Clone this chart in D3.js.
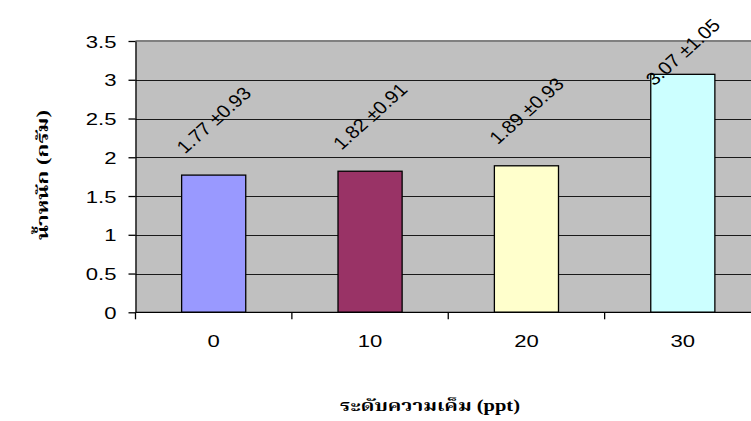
<!DOCTYPE html>
<html>
<head>
<meta charset="utf-8">
<script src="https://cdn.jsdelivr.net/npm/d3@7/dist/d3.min.js"></script>
<style>
  html, body { margin: 0; padding: 0; background: #fff; }
  svg { display: block; }
</style>
</head>
<body>
<svg id="chart" width="751" height="421"></svg>
<script>
// Salinity levels (ppt) and mean weight (g) with standard deviation
const categories = ["0", "10", "20", "30"];
const means = [1.77, 1.82, 1.89, 3.07];
const sds = [0.93, 0.91, 0.93, 1.05];
const barColors = ["#9999FF", "#993366", "#FFFFCC", "#CCFFFF"];
const yTicks = [0, 0.5, 1, 1.5, 2, 2.5, 3, 3.5];
const yTitle = "น้ำหนัก (กรัม)";
const xTitle = "ระดับความเค็ม (ppt)";

const W = 751, H = 421;
const plot = { left: 135.5, right: 761, top: 41, bottom: 312.3 };
const sx = 1.3;              // horizontal stretch of the axis label glyphs
const sxLabel = 1.12;        // horizontal stretch of the rotated value labels
const fontSans = "'Liberation Sans', Arial, sans-serif";
const fontThai = "'Liberation Serif', 'Noto Serif Thai', 'Noto Sans Thai', Garuda, Loma, Norasi, serif";

const svg = d3.select("#chart");
svg.append("rect").attr("width", W).attr("height", H).attr("fill", "#fff");

const slot = d3.scaleBand().domain(categories).range([plot.left, plot.right]).padding(0);
const barFrac = 0.41;
const y = d3.scaleLinear().domain([0, 3.5]).range([plot.bottom, plot.top]);

// plot area
svg.append("rect")
  .attr("x", plot.left).attr("y", plot.top)
  .attr("width", plot.right - plot.left).attr("height", plot.bottom - plot.top)
  .attr("fill", "#C0C0C0");

// horizontal gridlines
svg.append("g").selectAll("line")
  .data(yTicks.filter(t => t > 0 && t < 3.5))
  .join("line")
  .attr("x1", plot.left).attr("x2", plot.right)
  .attr("y1", d => Math.round(y(d)) + 0.5).attr("y2", d => Math.round(y(d)) + 0.5)
  .attr("stroke", "#1a1a1a").attr("stroke-width", 1);

// top border of the plot area
svg.append("line")
  .attr("x1", plot.left).attr("x2", plot.right)
  .attr("y1", y(3.5)).attr("y2", y(3.5))
  .attr("stroke", "#808080").attr("stroke-width", 2);

// bars
const bw = slot.bandwidth() * barFrac;
svg.append("g").selectAll("rect")
  .data(categories)
  .join("rect")
  .attr("x", d => slot(d) + (slot.bandwidth() - bw) / 2)
  .attr("y", (d, i) => y(means[i]))
  .attr("width", bw)
  .attr("height", (d, i) => y(0) - y(means[i]))
  .attr("fill", (d, i) => barColors[i])
  .attr("stroke", "#000").attr("stroke-width", 1.3);

// y axis
const yAxis = svg.append("g")
  .attr("transform", `translate(${plot.left},0)`)
  .call(d3.axisLeft(y).tickValues(yTicks).tickSize(7).tickSizeOuter(0).tickFormat(d3.format("")));
yAxis.select(".domain").attr("stroke", "#000").attr("stroke-width", 1.3);
yAxis.selectAll(".tick line").attr("stroke", "#000").attr("stroke-width", 1.3);
yAxis.selectAll(".tick text")
  .attr("x", null).attr("dy", "0.36em")
  .attr("transform", `translate(-19,0) scale(${sx},1)`)
  .attr("font-family", fontSans).attr("font-size", 17).attr("fill", "#000");

// x axis: line, boundary ticks and centred category labels
const xg = svg.append("g");
xg.append("line")
  .attr("x1", plot.left).attr("x2", plot.right)
  .attr("y1", plot.bottom).attr("y2", plot.bottom)
  .attr("stroke", "#000").attr("stroke-width", 1.3);
xg.selectAll("line.tick")
  .data(categories.concat(["end"]))
  .join("line").attr("class", "tick")
  .attr("x1", (d, i) => i < categories.length ? slot(d) : plot.right)
  .attr("x2", (d, i) => i < categories.length ? slot(d) : plot.right)
  .attr("y1", plot.bottom).attr("y2", plot.bottom + 7)
  .attr("stroke", "#000").attr("stroke-width", 1.3);
xg.selectAll("text")
  .data(categories)
  .join("text")
  .attr("transform", d => `translate(${slot(d) + slot.bandwidth() / 2},${plot.bottom + 35}) scale(${sx},1)`)
  .attr("text-anchor", "middle")
  .attr("font-family", fontSans).attr("font-size", 17).attr("fill", "#000")
  .text(d => d);

// value labels, rotated above each bar
svg.append("g").selectAll("text")
  .data(categories)
  .join("text")
  .attr("transform", (d, i) => {
    const cx = slot(d) + slot.bandwidth() / 2;
    const cy = Math.max(y(means[i]) - 55, 52);
    return `translate(${cx},${cy}) scale(${sxLabel},1) rotate(-45)`;
  })
  .attr("text-anchor", "middle").attr("dy", "0.35em")
  .attr("font-family", fontSans).attr("font-size", 18).attr("fill", "#000")
  .text((d, i) => `${means[i].toFixed(2)} ±${sds[i].toFixed(2)}`);

// axis titles
svg.append("text")
  .attr("transform", "translate(48,175) rotate(-90)")
  .attr("text-anchor", "middle")
  .attr("font-family", fontThai).attr("font-weight", "bold").attr("font-size", 16)
  .attr("textLength", 130).attr("lengthAdjust", "spacingAndGlyphs")
  .text(yTitle);

svg.append("text")
  .attr("x", 430).attr("y", 411)
  .attr("text-anchor", "middle")
  .attr("font-family", fontThai).attr("font-weight", "bold").attr("font-size", 16)
  .attr("textLength", 180).attr("lengthAdjust", "spacingAndGlyphs")
  .text(xTitle);
</script>
</body>
</html>
